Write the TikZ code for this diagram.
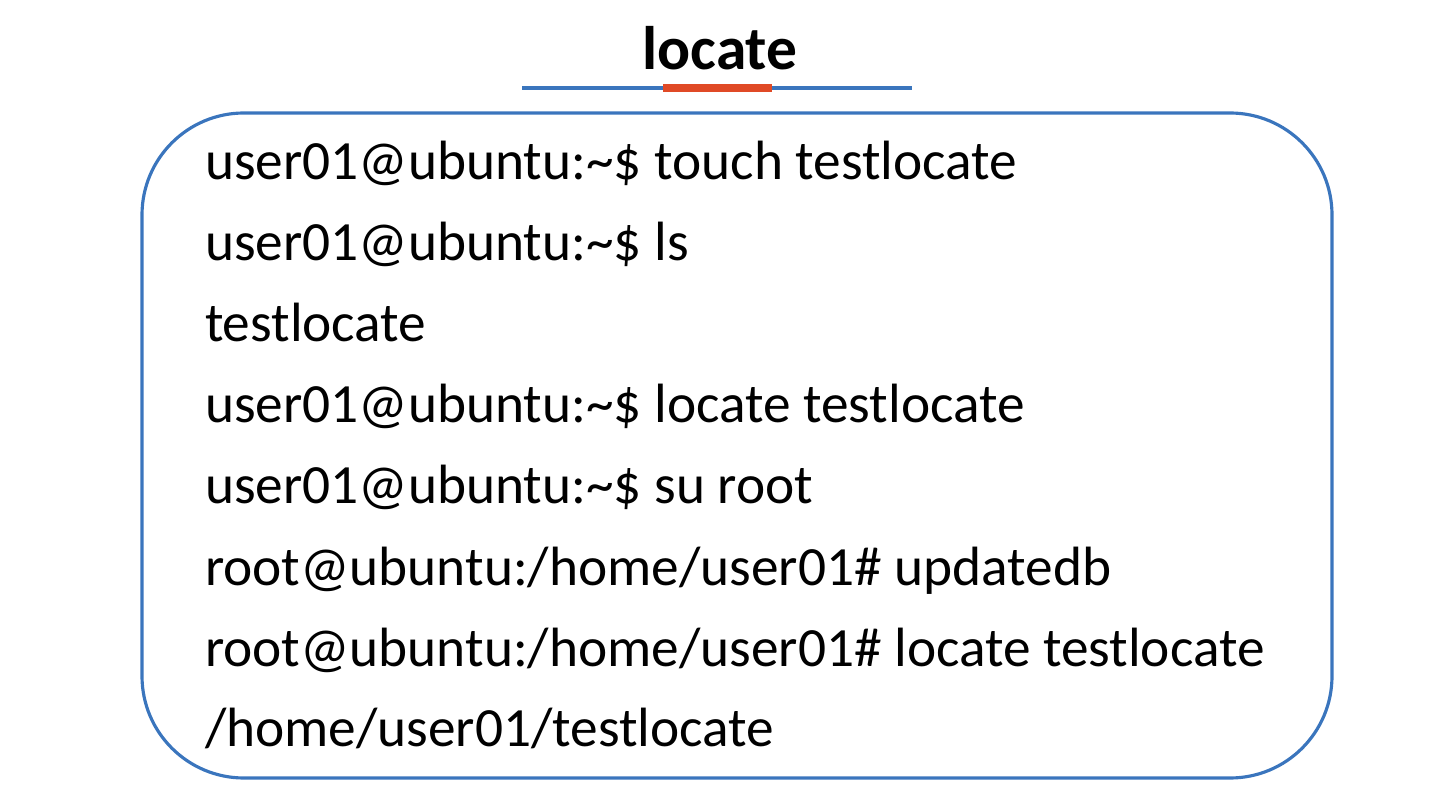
\documentclass[tikz,border=0pt]{standalone}
\usepackage{fontspec}
\setmainfont{Carlito}
\usetikzlibrary{positioning}
\definecolor{frameblue}{RGB}{58,117,189}
\definecolor{markred}{RGB}{224,74,38}

\begin{document}
\begin{tikzpicture}[
        x=0.02cm, y=-0.02cm,
        every node/.style={inner sep=0pt, outer sep=0pt},
        shellline/.style={anchor=base west, font=\fontsize{31.5}{36}\selectfont},
        heading/.style={anchor=base, font=\bfseries\fontsize{35}{40}\selectfont}
    ]
    \useasboundingbox (0,0) rectangle (1440,810);

    % Title
    \node[heading] (title) at (720,70) {locate};
    \coordinate (ruleL) at (522,88);
    \coordinate (ruleR) at (912,88);
    \coordinate (markL) at (663,88);
    \coordinate (markR) at (772,88);
    \draw[frameblue, line width=2pt] (ruleL) -- (ruleR);
    \draw[markred, line width=4pt] (markL) -- (markR);

    % Frame
    \node[draw=frameblue, line width=1.8pt, rounded corners=58pt,
          minimum width=1190*0.02cm, minimum height=665*0.02cm] (frame) at (737,445.5) {};

    % Shell lines
    \node[shellline] (l1) at (205,180) {user01@ubuntu:\textasciitilde\$ touch testlocate};
    \node[shellline] (l2) at (205,261) {user01@ubuntu:\textasciitilde\$ ls};
    \node[shellline] (l3) at (205,342) {testlocate};
    \node[shellline] (l4) at (205,423) {user01@ubuntu:\textasciitilde\$ locate testlocate};
    \node[shellline] (l5) at (205,504) {user01@ubuntu:\textasciitilde\$ su root};
    \node[shellline] (l6) at (205,585) {root@ubuntu:/home/user01\# updatedb};
    \node[shellline] (l7) at (205,666) {root@ubuntu:/home/user01\# locate testlocate};
    \node[shellline] (l8) at (205,746) {/home/user01/testlocate};
\end{tikzpicture}
\end{document}
